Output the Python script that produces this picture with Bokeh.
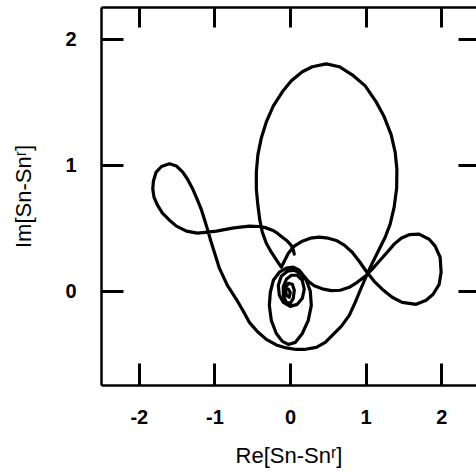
from bokeh.plotting import figure
from bokeh.models import LinearAxis, FixedTicker, Range1d
from bokeh.embed import file_html
from bokeh.resources import INLINE

# Trajectory of Sn - Sn^r in the complex plane, from the open end of the hook
# through the side loops and into the inner spiral.
re_vals = [
    0.050, 0.037, 0.007, -0.055, -0.108, -0.174, -0.240, -0.333, -0.412, -0.544,
    -0.663, -0.769, -0.875, -0.980, -1.099, -1.231, -1.377, -1.509, -1.601, -1.694,
    -1.760, -1.806, -1.822, -1.813, -1.777, -1.707, -1.601, -1.509, -1.425, -1.357,
    -1.293, -1.238, -1.182, -1.139, -1.095, -1.053, -1.007, -0.941, -0.835, -0.716,
    -0.624, -0.544, -0.439, -0.320, -0.188, -0.055, 0.077, 0.182, 0.341, 0.460,
    0.552, 0.671, 0.777, 0.856, 0.922, 1.001, 1.081, 1.173, 1.252, 1.318,
    1.371, 1.404, 1.407, 1.384, 1.332, 1.239, 1.133, 0.988, 0.816, 0.645,
    0.473, 0.288, 0.156, 0.011, -0.108, -0.227, -0.320, -0.386, -0.432, -0.452,
    -0.452, -0.432, -0.406, -0.373, -0.320, -0.254, -0.174, -0.122, -0.082, -0.029,
    0.050, 0.156, 0.262, 0.380, 0.499, 0.605, 0.711, 0.816, 0.909, 1.001,
    1.107, 1.213, 1.345, 1.477, 1.662, 1.794, 1.886, 1.966, 1.992, 1.979,
    1.913, 1.834, 1.701, 1.569, 1.464, 1.371, 1.279, 1.173, 1.081, 0.988,
    0.882, 0.777, 0.658, 0.539, 0.420, 0.314, 0.235, 0.169, 0.116, 0.037,
    -0.055, -0.148, -0.227, -0.267, -0.280, -0.254, -0.188, -0.108, -0.029, 0.063,
    0.156, 0.235, 0.275, 0.262, 0.209, 0.129, 0.050, -0.042, -0.122, -0.161,
    -0.148, -0.095, -0.003, 0.090, 0.156, 0.182, 0.156, 0.090, 0.011, -0.055,
    -0.095, -0.095, -0.055, -0.003, 0.037, 0.050, 0.024, -0.029, -0.069, -0.055,
    -0.016, -0.003, -0.029,
]
im_vals = [
    0.292, 0.324, 0.364, 0.403, 0.427, 0.459, 0.483, 0.503, 0.512, 0.515,
    0.507, 0.499, 0.487, 0.475, 0.467, 0.459, 0.475, 0.515, 0.562, 0.618,
    0.682, 0.745, 0.809, 0.873, 0.944, 0.988, 1.010, 0.992, 0.944, 0.881,
    0.809, 0.733, 0.650, 0.570, 0.483, 0.395, 0.308, 0.181, 0.045, -0.066,
    -0.161, -0.249, -0.321, -0.384, -0.428, -0.452, -0.464, -0.464, -0.448, -0.408,
    -0.352, -0.281, -0.193, -0.090, 0.006, 0.117, 0.220, 0.332, 0.427, 0.531,
    0.666, 0.817, 0.968, 1.103, 1.239, 1.382, 1.501, 1.628, 1.716, 1.780,
    1.803, 1.780, 1.740, 1.668, 1.581, 1.469, 1.342, 1.215, 1.080, 0.944,
    0.809, 0.682, 0.562, 0.467, 0.379, 0.308, 0.236, 0.189, 0.236, 0.300,
    0.356, 0.395, 0.419, 0.427, 0.419, 0.401, 0.364, 0.308, 0.236, 0.157,
    0.077, 0.014, -0.050, -0.090, -0.106, -0.074, -0.026, 0.053, 0.149, 0.268,
    0.356, 0.411, 0.451, 0.447, 0.419, 0.372, 0.308, 0.236, 0.173, 0.117,
    0.069, 0.029, 0.006, 0.003, 0.017, 0.041, 0.077, 0.125, 0.165, 0.189,
    0.181, 0.149, 0.085, -0.010, -0.114, -0.233, -0.337, -0.400, -0.424, -0.408,
    -0.337, -0.233, -0.114, -0.002, 0.085, 0.141, 0.165, 0.157, 0.117, 0.045,
    -0.034, -0.090, -0.122, -0.106, -0.058, 0.014, 0.085, 0.125, 0.125, 0.093,
    0.037, -0.034, -0.090, -0.098, -0.058, 0.006, 0.053, 0.061, 0.021, -0.034,
    -0.050, -0.010, 0.014,
]

x_ticks = [-2, -1, 0, 1, 2]
y_ticks = [0, 1, 2]
x_tick_labels = {-2: "-2", -1: "-1", 0: "0", 1: "1", 2: "2"}
y_tick_labels = {0: "0", 1: "1", 2: "2"}

p = figure(
    width=476, height=472,
    x_range=Range1d(-2.5, 2.46), y_range=Range1d(-0.75, 2.25),
    output_backend="svg", toolbar_location=None,
    min_border_left=101, min_border_bottom=87, min_border_top=7, min_border_right=0,
    background_fill_color="white", border_fill_color="white",
)
p.outline_line_color = None
p.xgrid.visible = False
p.ygrid.visible = False

p.line(re_vals, im_vals, line_color="black", line_width=3.2,
       line_join="round", line_cap="round")

top_axis = LinearAxis()
right_axis = LinearAxis()
p.add_layout(top_axis, "above")
p.add_layout(right_axis, "right")

font = "Liberation Sans"
for ax in p.xaxis:
    ax.ticker = FixedTicker(ticks=x_ticks)
for ax in p.yaxis:
    ax.ticker = FixedTicker(ticks=y_ticks)

for ax in [p.below[0], p.left[0], top_axis, right_axis]:
    ax.major_tick_out = 0
    ax.major_tick_in = 22
    ax.major_tick_line_width = 3
    ax.major_tick_line_color = "black"
    ax.minor_tick_line_color = None
    ax.axis_line_width = 2.5
    ax.axis_line_color = "black"
    ax.major_label_text_font = font
    ax.major_label_text_font_style = "bold"
    ax.major_label_text_font_size = "20px"
    ax.major_label_text_color = "black"
    ax.axis_label_text_font = font
    ax.axis_label_text_font_style = "normal"
    ax.axis_label_text_font_size = "22px"
    ax.axis_label_text_color = "black"

# Frame-side axes carry only inward ticks
top_axis.major_label_overrides = {t: "" for t in x_ticks}
right_axis.major_label_overrides = {t: "" for t in y_ticks}
top_axis.major_label_standoff = 0
right_axis.major_label_standoff = 0
right_axis.axis_line_color = None
right_axis.major_tick_in = 18
top_axis.major_tick_in = 20

p.below[0].major_label_overrides = x_tick_labels
p.below[0].major_label_standoff = 24
p.below[0].axis_label = "Re[Sn-Snʳ]"
p.below[0].axis_label_standoff = 16
p.left[0].major_label_overrides = y_tick_labels
p.left[0].major_label_standoff = 25
p.left[0].axis_label = "Im[Sn-Snʳ]"
p.left[0].axis_label_standoff = 26

open("out.html", "w").write(file_html(p, INLINE))
